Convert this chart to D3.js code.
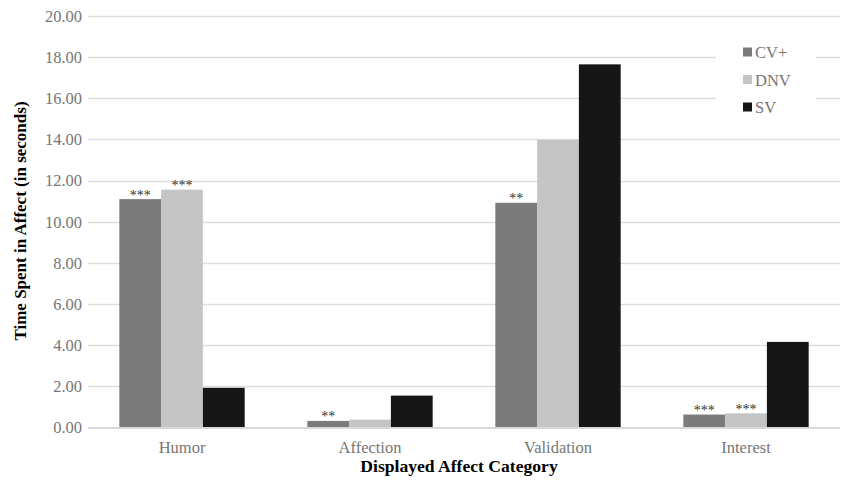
<!DOCTYPE html>
<html>
<head>
    <meta charset="utf-8">
    <style>
        body { margin: 0; background: white; }
        svg { display: block; font-family: "Liberation Serif", "Times New Roman", serif; }
        .tick text { fill: #767676; font-size: 16.5px; }
    </style>
</head>
<body>
<svg width="845" height="481"></svg>
<script src="https://d3js.org/d3.v7.min.js"></script>
<script>
    // data
    let categories = ["Humor", "Affection", "Validation", "Interest"]
    let seriesNames = ["CV+", "DNV", "SV"]
    let cvPlus = [11.10, 0.32, 10.92, 0.63]
    let dnv = [11.56, 0.38, 13.98, 0.69]
    let sv = [1.93, 1.55, 17.65, 4.16]
    let stars = [["***", "***", ""], ["**", "", ""], ["**", "", ""], ["***", "***", ""]]
    let yTicks = [0, 2, 4, 6, 8, 10, 12, 14, 16, 18, 20]

    let colors = ["#7b7b7b", "#c4c5c4", "#161616"]
    let values = [cvPlus, dnv, sv]

    let margin = { top: 16, right: 5, bottom: 53.5, left: 88 }
    let width = 845, height = 481

    let svg = d3.select("svg")

    let x = d3.scaleBand()
        .domain(categories)
        .range([margin.left, width - margin.right])
        .paddingInner(0)
        .paddingOuter(0)

    // gap width 150% like the original chart
    let groupW = x.bandwidth() * 3 / 4.5
    let x1 = d3.scaleBand()
        .domain(seriesNames)
        .range([(x.bandwidth() - groupW) / 2, (x.bandwidth() + groupW) / 2])

    let y = d3.scaleLinear()
        .domain([0, 20])
        .range([height - margin.bottom, margin.top])

    // gridlines
    svg.append("g")
        .selectAll("line")
        .data(yTicks.slice(1))
        .join("line")
        .attr("x1", margin.left)
        .attr("x2", width - margin.right)
        .attr("y1", d => Math.round(y(d)) + 0.5)
        .attr("y2", d => Math.round(y(d)) + 0.5)
        .style("stroke", "#dedede")
        .style("stroke-width", 1.3)

    // y axis labels
    let yAxis = svg.append("g")
        .attr("transform", "translate(" + margin.left + ",0)")
        .call(d3.axisLeft(y).tickValues(yTicks).tickFormat(d3.format(".2f")).tickSize(0).tickPadding(6))
        .attr("font-family", null)
        .attr("font-size", null)
    yAxis.select(".domain").remove()

    // legend box (white, hides grid)
    let legend = svg.append("g")
    legend.append("rect")
        .attr("x", 716).attr("y", 32)
        .attr("width", 100).attr("height", 90)
        .style("fill", "white")

    seriesNames.forEach((s, i) => {
        let ly = 52 + i * 27.5
        legend.append("rect")
            .attr("x", 743).attr("y", ly - 4.5)
            .attr("width", 9).attr("height", 9)
            .style("fill", colors[i])
        legend.append("text")
            .attr("x", 755).attr("y", ly + 6)
            .text(s)
            .style("font-size", "16.5px")
            .style("fill", "#767676")
    })

    // bars
    seriesNames.forEach((s, si) => {
        svg.append("g")
            .selectAll("rect")
            .data(categories)
            .join("rect")
            .attr("x", (d, i) => x(d) + x1(s))
            .attr("width", x1.bandwidth())
            .attr("y", (d, i) => y(values[si][i]))
            .attr("height", (d, i) => y(0) - y(values[si][i]))
            .style("fill", colors[si])

        svg.append("g")
            .selectAll("text")
            .data(categories)
            .join("text")
            .attr("x", (d, i) => x(d) + x1(s) + x1.bandwidth() / 2)
            .attr("y", (d, i) => y(values[si][i]) + 0.5)
            .attr("text-anchor", "middle")
            .text((d, i) => stars[i][si])
            .style("font-size", "14px")
            .style("fill", "#333")
    })

    // baseline
    svg.append("line")
        .attr("x1", margin.left).attr("x2", width - margin.right)
        .attr("y1", y(0) + 0.5).attr("y2", y(0) + 0.5)
        .style("stroke", "#d9d9d9")
        .style("stroke-width", 2)

    // x axis labels
    let xAxis = svg.append("g")
        .attr("transform", "translate(0," + y(0) + ")")
        .call(d3.axisBottom(x).tickSize(0).tickPadding(14))
        .attr("font-family", null)
        .attr("font-size", null)
    xAxis.select(".domain").remove()

    // axis titles
    svg.append("text")
        .attr("x", (margin.left + width - margin.right) / 2 - 5)
        .attr("y", 471.5)
        .attr("text-anchor", "middle")
        .text("Displayed Affect Category")
        .style("font-size", "17.6px")
        .style("font-weight", "bold")

    svg.append("text")
        .attr("transform", "translate(26,221) rotate(-90)")
        .attr("text-anchor", "middle")
        .text("Time Spent in Affect (in seconds)")
        .style("font-size", "17px")
        .style("font-weight", "bold")
</script>
</body>
</html>
